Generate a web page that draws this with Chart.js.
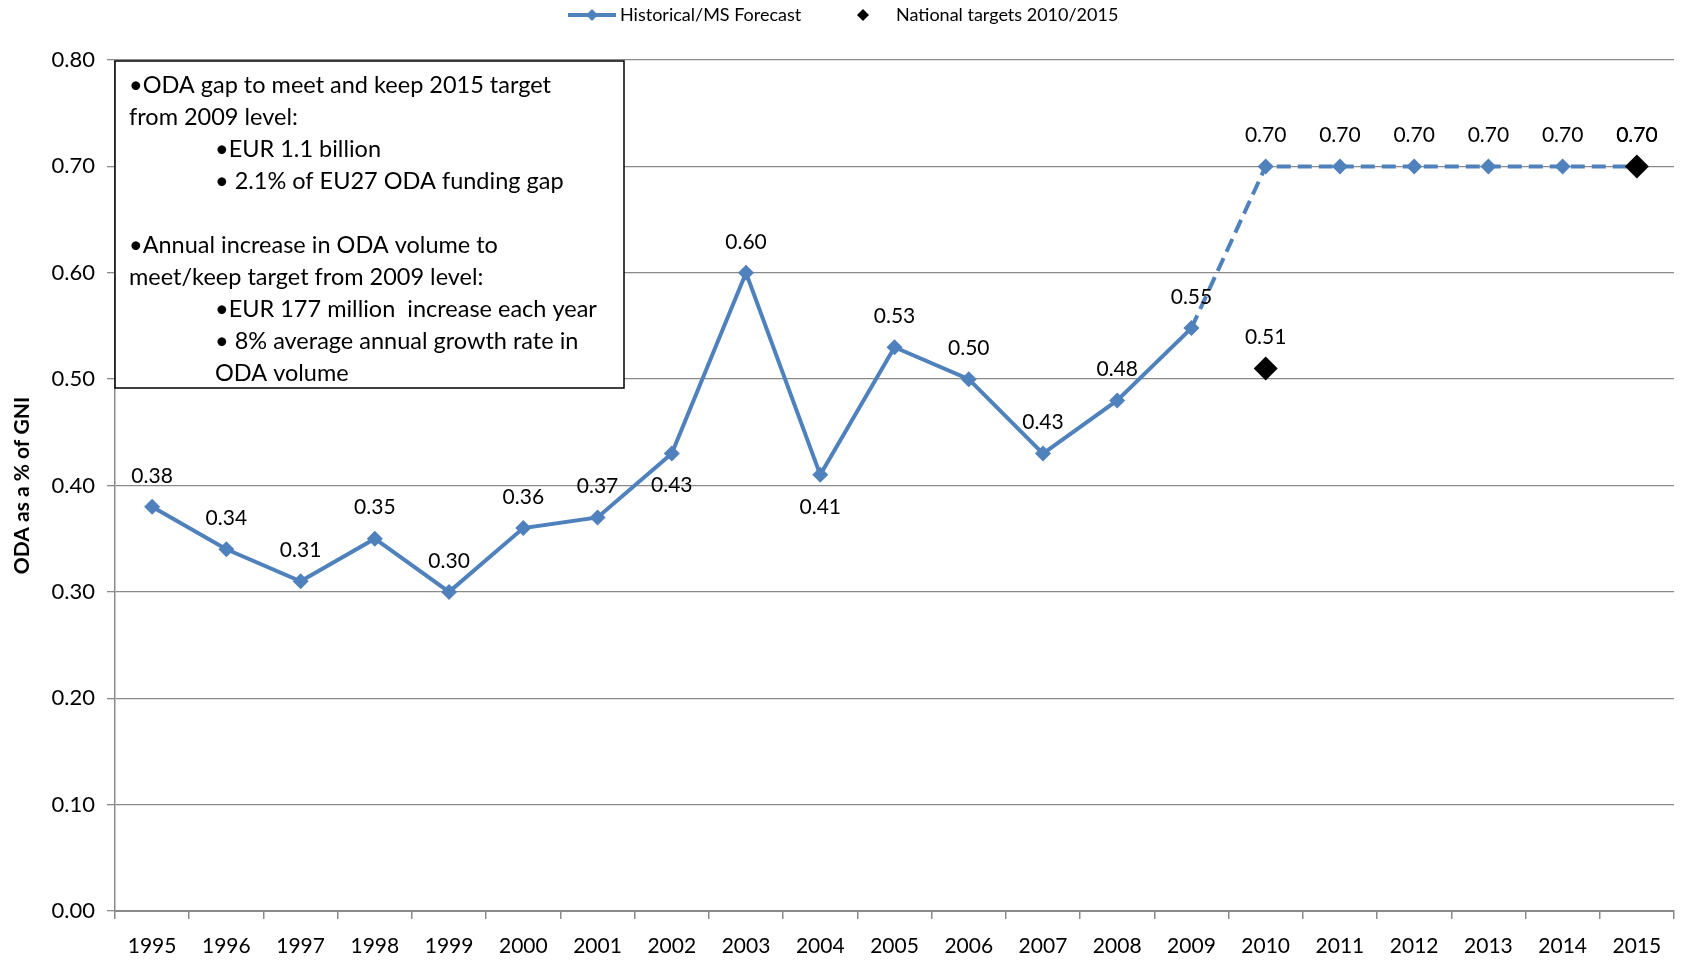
<!DOCTYPE html>
<html>
<head>
<meta charset="utf-8">
<script src="https://cdn.jsdelivr.net/npm/chart.js@4.4.1/dist/chart.umd.min.js"></script>
<style>
  html, body { margin: 0; padding: 0; background: #fff; }
  #wrap { width: 1686px; height: 969px; position: relative; }
</style>
</head>
<body>
<div id="wrap"><canvas id="chart"></canvas></div>
<script>
// data
const years = ['1995', '1996', '1997', '1998', '1999', '2000', '2001', '2002', '2003', '2004',
  '2005', '2006', '2007', '2008', '2009', '2010', '2011', '2012', '2013', '2014', '2015'];
const historical = [0.38, 0.34, 0.31, 0.35, 0.30, 0.36, 0.37, 0.43, 0.60, 0.41,
  0.53, 0.50, 0.43, 0.48, 0.548, 0.70, 0.70, 0.70, 0.70, 0.70, 0.70];
const targets = [null, null, null, null, null, null, null, null, null, null,
  null, null, null, null, null, 0.51, null, null, null, null, 0.70];
// where each data label sits relative to its point
const historicalLabelPos = ['up', 'up', 'up', 'up', 'up', 'up', 'up', 'down', 'up', 'down',
  'up', 'up', 'up', 'up', 'up', 'up', 'up', 'up', 'up', 'up', 'up'];
const forecastFrom = 14; // 2009 -> dashed afterwards
const yTicks = [0, 0.1, 0.2, 0.3, 0.4, 0.5, 0.6, 0.7, 0.8];

const boxLines = [
  { text: '\u2022ODA gap to meet and keep 2015 target', indent: 0 },
  { text: 'from 2009 level:', indent: 0 },
  { text: '\u2022EUR 1.1 billion', indent: 1 },
  { text: '\u2022 2.1% of EU27 ODA funding gap', indent: 1 },
  { text: '', indent: 0 },
  { text: '\u2022Annual increase in ODA volume to', indent: 0 },
  { text: 'meet/keep target from 2009 level:', indent: 0 },
  { text: '\u2022EUR 177 million  increase each year', indent: 1 },
  { text: '\u2022 8% average annual growth rate in', indent: 1 },
  { text: 'ODA volume', indent: 1 }
];

const BLUE = '#4F81BD';
const GRID = '#8a8a8a';
const canvas = document.getElementById('chart');
canvas.width = 1686;
canvas.height = 969;

function diamond(ctx, x, y, r, color) {
  ctx.beginPath();
  ctx.moveTo(x, y - r);
  ctx.lineTo(x + r, y);
  ctx.lineTo(x, y + r);
  ctx.lineTo(x - r, y);
  ctx.closePath();
  ctx.fillStyle = color;
  ctx.fill();
}

const extras = {
  id: 'extras',
  afterDatasetsDraw(chart) {
    const ctx = chart.ctx;
    const area = chart.chartArea;
    ctx.save();

    // data labels
    ctx.font = '21px Lato';
    ctx.fillStyle = '#000';
    ctx.textAlign = 'center';
    ctx.textBaseline = 'middle';
    chart.data.datasets.forEach((ds, di) => {
      const meta = chart.getDatasetMeta(di);
      meta.data.forEach((pt, i) => {
        const v = ds.data[i];
        if (v === null) return;
        const pos = ds.labelPos ? ds.labelPos[i] : 'up';
        const dy = pos === 'down' ? 32 : -31;
        ctx.fillText(v.toFixed(2), pt.x, pt.y + dy);
      });
    });

    // annotation box
    const bx = area.left, by = area.top + 1, bw = 509, bh = 327;
    ctx.fillStyle = '#fff';
    ctx.fillRect(bx, by, bw, bh);
    ctx.strokeStyle = '#000';
    ctx.lineWidth = 1.5;
    ctx.strokeRect(bx, by, bw, bh);
    ctx.fillStyle = '#000';
    ctx.font = '23.5px Lato';
    ctx.textAlign = 'left';
    ctx.textBaseline = 'middle';
    const indents = [bx + 14, bx + 100];
    boxLines.forEach((ln, i) => {
      ctx.fillText(ln.text, indents[ln.indent], by + 24 + i * 32);
    });

    // legend
    const ly = 15;
    ctx.strokeStyle = BLUE;
    ctx.lineWidth = 4;
    ctx.beginPath();
    ctx.moveTo(568, ly);
    ctx.lineTo(616, ly);
    ctx.stroke();
    diamond(ctx, 592, ly, 6, BLUE);
    diamond(ctx, 863, ly, 6, '#000');
    ctx.fillStyle = '#000';
    ctx.font = '18px Lato';
    ctx.fillText('Historical/MS Forecast', 620, ly);
    ctx.fillText('National targets 2010/2015', 896, ly);
    ctx.restore();
  }
};

new Chart(canvas, {
  type: 'line',
  data: {
    labels: years,
    datasets: [
      {
        label: 'National targets 2010/2015',
        data: targets,
        showLine: false,
        pointStyle: 'rectRot',
        pointRadius: 12,
        pointBackgroundColor: '#000',
        pointBorderColor: '#000',
        pointBorderWidth: 0,
        order: 0
      },
      {
        label: 'Historical/MS Forecast',
        data: historical,
        labelPos: historicalLabelPos,
        borderColor: BLUE,
        borderWidth: 4,
        tension: 0,
        pointStyle: 'rectRot',
        pointRadius: 8,
        pointBackgroundColor: BLUE,
        pointBorderColor: BLUE,
        pointBorderWidth: 0,
        segment: {
          borderDash: c => c.p0DataIndex >= forecastFrom ? [14, 7] : undefined
        },
        order: 1
      }
    ]
  },
  options: {
    responsive: false,
    animation: false,
    layout: { padding: { top: 60, right: 1, left: 0, bottom: 0 } },
    plugins: { legend: { display: false }, tooltip: { enabled: false } },
    scales: {
      x: {
        offset: true,
        grid: { display: true, offset: true, drawOnChartArea: false, tickLength: 8, color: GRID, lineWidth: 1.5 },
        border: { color: GRID, width: 2 },
        ticks: { color: '#000', font: { family: 'Lato', size: 21 }, padding: 15, maxRotation: 0, autoSkip: false },
        afterFit: s => { s.height = 58; }
      },
      y: {
        min: 0,
        max: 0.8,
        afterBuildTicks: s => { s.ticks = yTicks.map(v => ({ value: v })); },
        grid: { color: GRID, lineWidth: 1.3, tickLength: 8 },
        border: { color: GRID, width: 1.5 },
        ticks: { color: '#000', font: { family: 'Lato', size: 22 }, padding: 12, callback: v => v.toFixed(2) },
        title: { display: true, text: 'ODA as a % of GNI', color: '#000', font: { family: 'Lato', size: 21, weight: 'bold' }, padding: { top: 10, bottom: 0 } },
        afterFit: s => { s.width = 115; }
      }
    }
  },
  plugins: [extras]
});
</script>
</body>
</html>
